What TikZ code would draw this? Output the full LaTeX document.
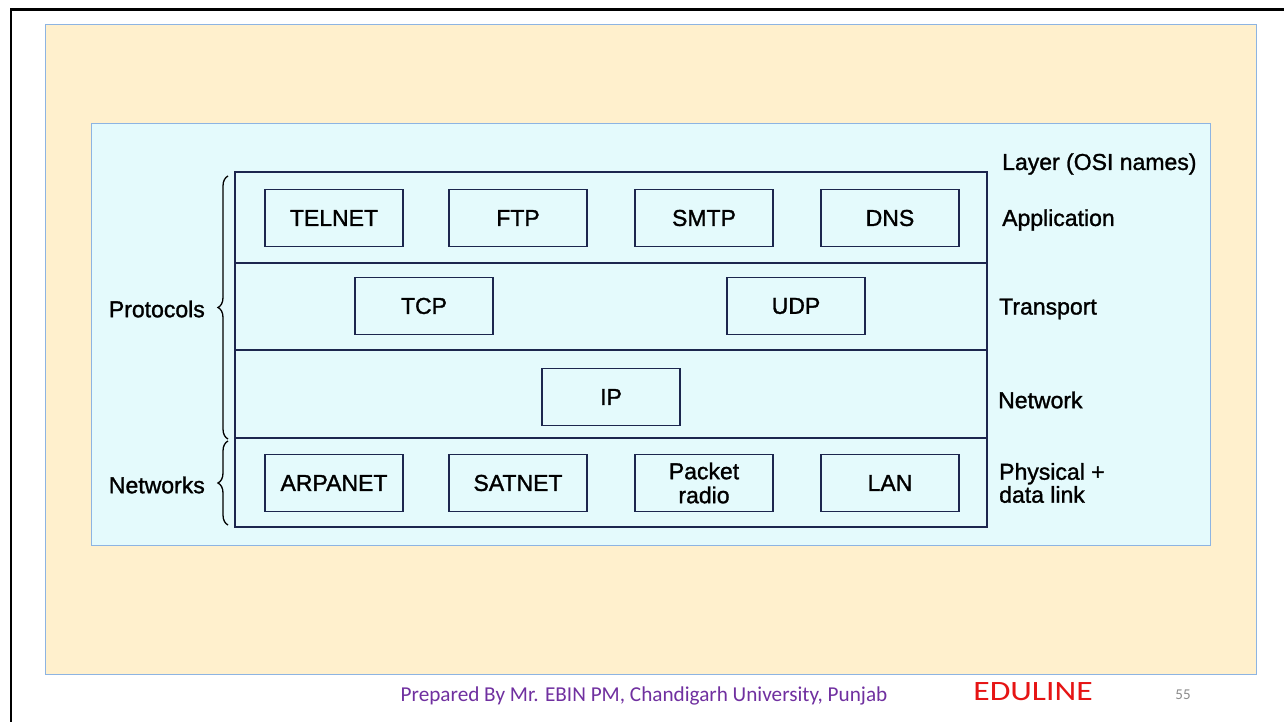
\documentclass[tikz,border=0pt]{standalone}
\usepackage{fontspec}
\setmainfont{Liberation Sans}[BoldFont={Liberation Sans}, BoldFeatures={FakeBold=1.3}]
\newfontfamily\footfont{Carlito}
\usetikzlibrary{decorations.pathreplacing}

\definecolor{slidecream}{RGB}{255,240,205}
\definecolor{panelblue}{RGB}{141,180,226}
\definecolor{panelcyan}{RGB}{228,250,252}
\definecolor{inkblue}{RGB}{28,38,78}
\definecolor{footpurple}{RGB}{112,48,160}
\definecolor{logored}{RGB}{230,20,20}
\definecolor{pagegray}{RGB}{140,140,140}

\tikzset{
  proto/.style={draw=inkblue, line width=1.6pt, fill=panelcyan,
    minimum width=138pt, minimum height=57pt, inner sep=0pt,
    align=center, font=\bfseries\fontsize{23}{24}\selectfont, text=black},
  layerlabel/.style={anchor=west, inner sep=0pt, align=left,
    font=\bfseries\fontsize{23}{23}\selectfont, text=black},
  sidelabel/.style={anchor=east, inner sep=0pt,
    font=\bfseries\fontsize{23}{23}\selectfont, text=black},
  stackline/.style={draw=inkblue, line width=2pt},
  grouping/.style={draw=black, line width=1.3pt,
    decorate, decoration={brace, amplitude=10pt, mirror}},
}

\begin{document}
\begin{tikzpicture}[x=1pt, y=-1pt]
\useasboundingbox (0,0) rectangle (1284,722);
\fill[white] (0,0) rectangle (1284,722);

% slide frame
\draw[black, line width=2.6pt] (11,722) -- (11,9.5) -- (1284,9.5);

% slide content area
\draw[panelblue, fill=slidecream, line width=1pt] (45,25) rectangle (1256,674);

% figure panel
\draw[panelblue, fill=panelcyan, line width=1pt] (91,124) rectangle (1210,545);

% layer stack
\node[draw=inkblue, line width=2pt, minimum width=752pt, minimum height=355pt,
      inner sep=0pt] (stack) at (611,349.5) {};
\coordinate (r1w) at (235,263); \coordinate (r1e) at (987,263);
\coordinate (r2w) at (235,350); \coordinate (r2e) at (987,350);
\coordinate (r3w) at (235,437.5); \coordinate (r3e) at (987,437.5);
\draw[stackline] (r1w) -- (r1e);
\draw[stackline] (r2w) -- (r2e);
\draw[stackline] (r3w) -- (r3e);

% application layer
\node[proto] (telnet) at (334,218) {TELNET};
\node[proto] (ftp)    at (518,218) {FTP};
\node[proto] (smtp)   at (704,218) {SMTP};
\node[proto] (dns)    at (890,218) {DNS};

% transport layer
\node[proto] (tcp) at (424,306) {TCP};
\node[proto] (udp) at (796,306) {UDP};

% network layer
\node[proto] (ip) at (611,397) {IP};

% physical + data link
\node[proto] (arpanet) at (334,483) {ARPANET};
\node[proto] (satnet)  at (518,483) {SATNET};
\node[proto] (packet)  at (704,483) {Packet\\radio};
\node[proto] (lan)     at (890,483) {LAN};

% layer names
\node[layerlabel] (hdr)  at (1002,164) {Layer (OSI names)};
\node[layerlabel] (app)  at (1002,220) {Application};
\node[layerlabel] (trn)  at (999,309) {Transport};
\node[layerlabel] (net)  at (998,400) {Network};
\node[layerlabel] (phy)  at (999,483) {Physical +\\data link};

% groupings
\coordinate (pb) at (228,176); \coordinate (pe) at (228,439);
\coordinate (nb) at (228,441); \coordinate (ne) at (228,525);
\draw[grouping] (pb) -- (pe);
\draw[grouping] (nb) -- (ne);
\node[sidelabel] (protocols) at (205,309) {Protocols};
\node[sidelabel] (networks)  at (205,485) {Networks};

% footer
\node[inner sep=0pt, text=footpurple, font=\footfont\fontsize{21.2}{21}\selectfont]
  (credit) at (644,696) {Prepared By Mr. EBIN PM, Chandigarh University, Punjab};
\node[inner sep=0pt, text=logored, xscale=1.2, transform shape,
      font=\footfont\fontsize{28}{28}\selectfont]
  (logo) at (1033,692) {EDULINE};
\node[inner sep=0pt, text=pagegray, font=\footfont\fontsize{15}{15}\selectfont]
  (page) at (1183,695) {55};
\end{tikzpicture}
\end{document}
